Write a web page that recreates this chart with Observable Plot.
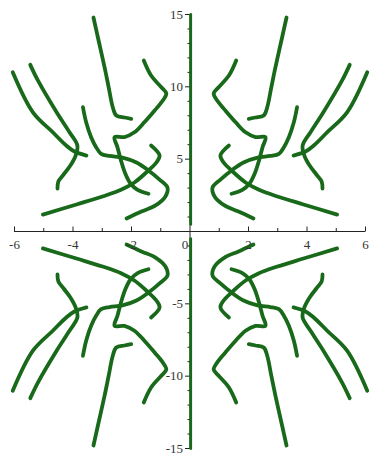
<!DOCTYPE html>
<html>
<head>
<meta charset="utf-8">
<script src="https://cdn.jsdelivr.net/npm/d3@7"></script>
<script src="https://cdn.jsdelivr.net/npm/@observablehq/plot@0.6"></script>
<style>
  html, body { margin: 0; padding: 0; background: #fff; }
</style>
</head>
<body>
<div id="chart"></div>
<script>
// Branches of the curve in the first quadrant (x > 0, y > 0);
// the figure is symmetric about both axes.
const branchA = [[3.30,14.79],[3.15,13.43],[2.92,11.35],[2.78,9.97],[2.64,8.59],[2.52,8.02],[2.24,7.88],[2.01,7.79]];
const branchB = [[1.58,11.82],[1.33,10.78],[0.98,9.97],[0.81,9.54],[0.93,9.05],[1.21,8.36],[1.56,7.55],[1.90,6.86],[2.24,6.53],[2.58,6.52],[2.48,5.83],[2.36,4.91],[2.21,3.99],[2.03,3.30],[1.79,2.88],[1.42,2.61]];
const branchC = [[3.66,8.59],[3.55,7.55],[3.38,6.52],[3.21,5.83],[3.04,5.37],[2.75,5.22],[2.31,5.11],[1.83,4.77],[1.42,4.22],[1.04,3.59],[0.77,3.04],[0.84,2.42],[1.18,1.80],[1.66,1.38],[2.17,0.90]];
const branchD = [[1.33,5.94],[1.04,5.25],[1.15,4.77],[1.42,4.22],[1.90,3.39],[2.34,2.90],[2.99,2.42],[3.88,1.87],[5.03,1.17]];
const branchE = [[5.46,11.52],[5.20,10.44],[4.56,8.24],[4.12,6.86],[3.85,5.94],[3.91,5.25],[4.09,4.56],[4.32,3.94],[4.50,3.46],[4.53,2.97]];
const branchF = [[6.06,11.01],[5.37,8.24],[4.69,6.86],[4.23,5.94],[3.95,5.53],[3.54,5.25]];
// Degenerate branch lying on the y-axis
const branchAxis = [[0,0.5],[0,15]];

const branches = [branchA, branchB, branchC, branchD, branchE, branchF, branchAxis];
const quadrants = [[1,1],[-1,1],[1,-1],[-1,-1]];

const xTickValues = [-6,-5,-4,-3,-2,-1,1,2,3,4,5,6];
const xLabelValues = [-6,-4,-2,2,4,6];
const xLabelText = ["-6","-4","-2","2","4","6"];
const originLabel = "0";
const yTickValues = d3.range(-15, 16).filter(v => v !== 0);
const yLabelValues = [15,10,5,-5,-10,-15];
const yLabelText = ["15","10","5","-5","-10","-15"];

const width = 370, height = 455;
const mt = 14, mb = 7, ml = 14, mr = 5;
// data units per pixel, for tick lengths
const ux = 12 / (width - ml - mr);
const uy = 30 / (height - mt - mb);

const rows = [];
branches.forEach((b, bi) => {
  quadrants.forEach(([sx, sy], qi) => {
    b.forEach(([x, y]) => rows.push({x: sx * x, y: sy * y, id: bi + "-" + qi, axis: bi === branches.length - 1}));
  });
});

const green = "#19691a";
const font = "'Liberation Serif', 'Times New Roman', serif";

const chart = Plot.plot({
  width, height,
  marginTop: mt, marginBottom: mb, marginLeft: ml, marginRight: mr,
  x: {domain: [-6, 6], axis: null},
  y: {domain: [-15, 15], axis: null},
  style: {background: "#fff", fontFamily: font},
  marks: [
    // axes through the origin
    Plot.ruleY([0], {x1: -6, x2: 6, stroke: "#222", strokeWidth: 1}),
    Plot.ruleX([0], {y1: -15, y2: 15, stroke: "#222", strokeWidth: 1}),
    Plot.link(xTickValues, {x1: d => d, x2: d => d, y1: 0, y2: d => (d % 2 === 0 ? 5 : 3.5) * uy, stroke: "#222", strokeWidth: 1}),
    Plot.link(yTickValues, {y1: d => d, y2: d => d, x1: 0, x2: d => -(d % 5 === 0 ? 5 : 2.5) * ux, stroke: "#222", strokeWidth: 1}),
    // curve branches
    Plot.line(rows.filter(r => !r.axis), {x: "x", y: "y", z: "id", stroke: green, strokeWidth: 3.8, curve: "catmull-rom", strokeLinecap: "round", strokeLinejoin: "round"}),
    Plot.line(rows.filter(r => r.axis), {x: "x", y: "y", z: "id", stroke: green, strokeWidth: 2.5, dx: 0.8}),
    // tick labels
    Plot.text(xLabelValues, {x: d => d, y: 0, text: (d, i) => xLabelText[i], dy: 13, fontSize: 13, fill: "#333"}),
    Plot.text([originLabel], {x: 0, y: 0, text: d => d, dy: 13, dx: -5, fontSize: 13, fill: "#333"}),
    Plot.text(yLabelValues, {x: 0, y: d => d, text: (d, i) => yLabelText[i], dx: -7, textAnchor: "end", fontSize: 13, fill: "#333"})
  ]
});
document.getElementById("chart").appendChild(chart);
</script>
</body>
</html>
